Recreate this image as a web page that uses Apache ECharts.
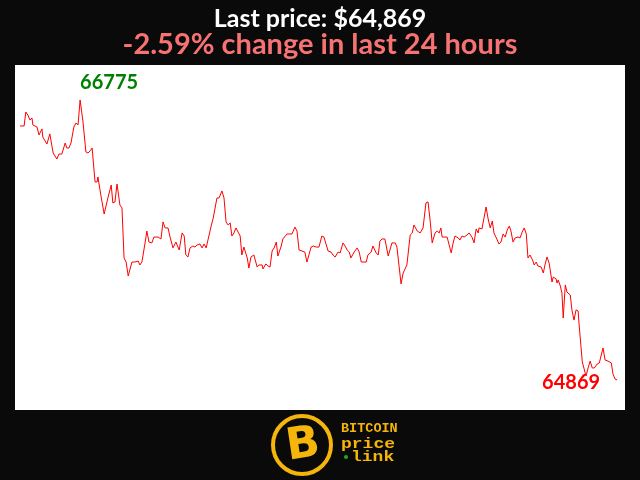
<!DOCTYPE html>
<html><head><meta charset="utf-8">
<script src="https://cdn.jsdelivr.net/npm/echarts@6/dist/echarts.min.js"></script>
<style>html,body{margin:0;padding:0;background:#0a0a0a;}#c{width:640px;height:480px;}</style>
</head><body><div id="c"></div>
<script>
// minutes since start of 24h window
const minutes = [0,10,14,19,24,29,31,41,46,53,55,65,72,75,80,84,89,94,101,109,113,118,123,130,135,140,145,152,159,164,169,174,181,186,188,195,203,212,220,224,229,234,241,246,251,256,261,265,270,277,285,289,294,302,306,311,318,323,333,340,345,350,357,362,369,376,384,391,396,400,405,410,417,422,427,434,439,444,449,453,461,466,470,475,480,487,492,497,502,507,511,516,521,526,531,535,540,548,552,557,564,572,576,584,586,593,598,603,608,613,618,622,630,634,644,656,663,668,673,680,687,692,702,707,714,721,728,733,743,750,755,760,767,772,779,784,789,794,798,806,813,818,823,827,835,839,847,851,859,864,868,873,880,888,897,905,909,919,924,933,941,946,950,958,965,972,979,984,989,994,1001,1006,1011,1015,1018,1025,1030,1035,1040,1044,1049,1057,1061,1066,1071,1078,1083,1090,1095,1100,1105,1107,1114,1117,1124,1129,1134,1139,1143,1151,1155,1160,1165,1170,1175,1180,1184,1189,1194,1201,1206,1211,1216,1221,1225,1230,1237,1240,1245,1249,1257,1262,1266,1271,1276,1283,1286,1293,1295,1298,1303,1307,1310,1315,1319,1327,1331,1336,1341,1346,1348,1356,1358,1363,1365,1370,1375,1380,1385,1392,1397,1401,1406,1411,1418,1426,1430,1435,1440];
const prices = [66598,66598,66693,66673,66639,66652,66605,66591,66537,66578,66523,66475,66544,66537,66414,66407,66373,66407,66407,66482,66448,66448,66482,66591,66618,66605,66775,66625,66421,66414,66428,66448,66217,66217,66251,66128,65999,66108,66196,66074,66081,66203,66060,66040,65700,65672,65577,65577,65672,65672,65679,65652,65672,65808,65883,65808,65802,65842,65842,65829,65945,65904,65904,65842,65768,65808,65754,65870,65849,65720,65706,65768,65781,65774,65788,65795,65768,65795,65768,65768,65917,65972,65979,66108,66108,66156,66108,65945,65924,65938,65849,65870,65904,65876,65849,65720,65774,65700,65631,65706,65720,65638,65652,65652,65625,65659,65645,65638,65747,65768,65808,65713,65781,65829,65863,65863,65910,65883,65754,65747,65740,65672,65774,65781,65774,65774,65849,65842,65747,65740,65720,65706,65740,65734,65802,65781,65754,65740,65700,65740,65768,65740,65672,65665,65672,65720,65740,65781,65734,65720,65815,65829,65829,65713,65802,65802,65774,65523,65597,65652,65856,65870,65924,65883,65870,65904,66074,66081,65958,65802,65870,65883,65870,65904,65842,65842,65842,65788,65734,65795,65849,65836,65822,65849,65842,65856,65870,65842,65802,65897,65870,65904,65897,65910,66047,65965,65904,65951,65870,65822,65795,65808,65863,65842,65890,65917,65883,65808,65836,65842,65836,65876,65904,65863,65700,65720,65679,65652,65672,65645,65638,65597,65652,65706,65665,65536,65570,65556,65529,65550,65509,65461,65291,65516,65468,65448,65346,65277,65346,65339,65257,64992,64971,64917,64896,64951,64998,64951,64951,64978,64985,64985,65087,65005,64998,64985,64910,64876,64869];
const titleText = 'Last price: $64,869';
const subtitleText = '-2.59% change in last 24 hours';
const logoLines = ['BITCOIN', 'price', 'link'];

const lastIdx = prices.length - 1;
const chart = echarts.init(document.getElementById('c'));
chart.setOption({
  backgroundColor: '#0a0a0a',
  animation: false,
  title: [
    {text: titleText, left: 'center', top: 1, textStyle: {color: '#ffffff', fontFamily: 'Lato', fontWeight: 'bold', fontSize: 25}},
    {text: subtitleText, left: 'center', top: 25, textStyle: {color: '#f77272', fontFamily: 'Lato', fontWeight: 'bold', fontSize: 29}}
  ],
  grid: {left: 15, right: 15, top: 65, bottom: 70, show: true, backgroundColor: '#ffffff', borderWidth: 0},
  xAxis: {type: 'value', min: -12, max: 1459, show: false},
  yAxis: {type: 'value', min: 64665, max: 67013, show: false},
  series: [{
    type: 'line',
    data: minutes.map((m, i) => [m, prices[i]]),
    symbol: 'none',
    lineStyle: {color: '#ff0000', width: 1},
    markPoint: {
      symbol: 'circle', symbolSize: 0,
      data: [
        {type: 'max', label: {show: true, position: 'inside', align: 'left', verticalAlign: 'middle', offset: [0, -17], color: '#008000', fontFamily: 'Lato', fontWeight: 'bold', fontSize: 20, formatter: '{c}'}},
        {coord: [minutes[lastIdx], prices[lastIdx]], value: prices[lastIdx], label: {show: true, position: 'inside', align: 'right', verticalAlign: 'middle', offset: [-17, 3], color: '#ff0000', fontFamily: 'Lato', fontWeight: 'bold', fontSize: 20, formatter: '{c}'}}
      ]
    }
  }],
  graphic: [
    {type: 'circle', shape: {cx: 302, cy: 445, r: 29}, style: {fill: '#0a0a0a', stroke: '#f5b50a', lineWidth: 4}},
    {type: 'text', x: 303, y: 446, rotation: 0.15, style: {text: 'B', fill: '#f5b50a', font: 'bold 44px "DejaVu Sans"', align: 'center', verticalAlign: 'middle'}},
    {type: 'text', x: 341, y: 429, style: {text: logoLines[0], fill: '#f5b50a', font: 'bold 13.5px "Liberation Mono"', verticalAlign: 'middle'}},
    {type: 'text', x: 341, y: 444, scaleY: 0.8, style: {text: logoLines[1], fill: '#f5b50a', font: 'bold 18px "Liberation Mono"', verticalAlign: 'middle'}},
    {type: 'circle', shape: {cx: 346, cy: 457, r: 2}, style: {fill: '#22aa22'}},
    {type: 'text', x: 351, y: 457, scaleY: 0.8, style: {text: logoLines[2], fill: '#f5b50a', font: 'bold 18px "Liberation Mono"', verticalAlign: 'middle'}}
  ]
});
</script></body></html>
